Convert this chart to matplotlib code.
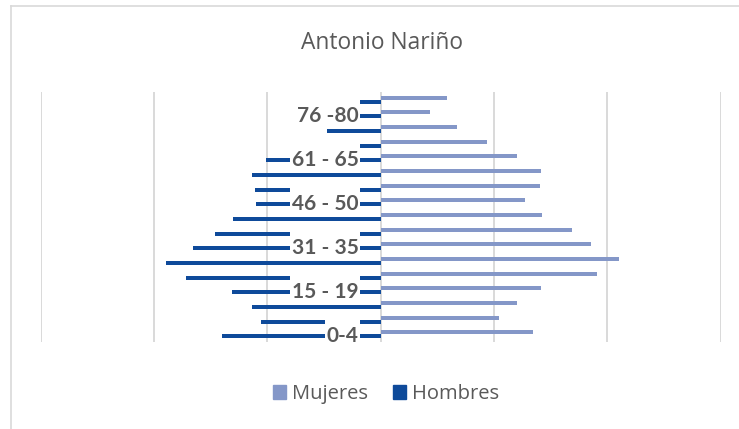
import numpy as np
import matplotlib.pyplot as plt
from matplotlib.lines import Line2D
from matplotlib.patches import Patch
from matplotlib.path import Path

plt.rcParams['font.family'] = ['Lato', 'DejaVu Sans']

edades = ["0-4", "5-9", "10-14", "15 - 19", "20 - 25", "26 - 30", "31 - 35",
          "36 - 40", "41 - 45", "46 - 50", "51 - 55", "56 - 60", "61 - 65",
          "66 - 70", "71 - 75", "76 -80", "81 +"]
mujeres = [1347, 1042, 1201, 1418, 1907, 2104, 1857, 1692, 1427, 1272,
           1409, 1418, 1201, 939, 677, 439, 583]
hombres = [1397, 1053, 1132, 1311, 1717, 1894, 1655, 1459, 1300, 1099,
           1108, 1132, 1014, 700, 476, 300, 250]
etiquetas_visibles = ["0-4", "15 - 19", "31 - 35", "46 - 50", "61 - 65", "76 -80"]

COLOR_M = '#8497C8'
COLOR_H = '#0E4A9A'
GRIS = '#595959'
FUENTE_TEXTO = ['Open Sans', 'DejaVu Sans']


def label_box(x0, y0, width, height, mutation_size):
    # white box behind the age labels, taller than the text itself
    cy = y0 + height / 2 + 0.1 * mutation_size
    left, right = x0 - 1.5, x0 + width + 1.5
    bottom, top = cy - 14, cy + 15.5
    return Path([(left, bottom), (right, bottom), (right, top), (left, top), (left, bottom)],
                closed=True)


fig = plt.figure(figsize=(7.39, 4.29), dpi=100)
ax = fig.add_axes([40.7 / 739, 1 - 341.7 / 429, 679.8 / 739, 249.4 / 429])

y = np.arange(len(edades))
bh = 0.26
ax.barh(y + 0.136, mujeres, height=bh, color=COLOR_M, label='Mujeres', zorder=1)
ax.barh(y - 0.136, -np.array(hombres), height=bh, color=COLOR_H, label='Hombres', zorder=1)

ax.set_xlim(-3000, 3000)
ax.set_ylim(-0.5, len(edades) - 0.5)
ax.set_xticks(np.arange(-3000, 3001, 1000))
ax.set_xticklabels([])
ax.set_yticks([])
ax.tick_params(length=0)
ax.set_axisbelow(True)
ax.xaxis.grid(True, color='#d9d9d9', lw=1.4)
for s in ax.spines.values():
    s.set_visible(False)

for i, lab in enumerate(edades):
    if lab in etiquetas_visibles:
        ax.annotate(lab, xy=(0, i), xytext=(-16, 0), textcoords='offset points',
                    ha='right', va='center_baseline', fontsize=15, fontweight='bold',
                    color=GRIS, zorder=3,
                    bbox=dict(boxstyle=label_box, fc='white', ec='none'))

fig.text(381.7 / 739, 1 - 49.3 / 429, 'Antonio Nariño', ha='center', va='baseline',
         fontsize=16.4, color=GRIS, family=FUENTE_TEXTO)

handles = [Patch(color=COLOR_M, label='Mujeres'), Patch(color=COLOR_H, label='Hombres')]
fig.legend(handles=handles, loc='center', bbox_to_anchor=(386 / 739, 1 - 394 / 429),
           ncol=2, frameon=False, prop={'family': FUENTE_TEXTO, 'size': 14.5},
           labelcolor=GRIS, handlelength=0.65, handleheight=0.65,
           handletextpad=0.3, columnspacing=1.25)

fig.add_artist(Line2D([11 / 739, 1], [1 - 6 / 429] * 2, transform=fig.transFigure,
                      color='#d9d9d9', lw=1.2))
fig.add_artist(Line2D([11 / 739] * 2, [0, 1 - 6 / 429], transform=fig.transFigure,
                      color='#d9d9d9', lw=1.2))

fig.savefig('out.png', dpi=100)
